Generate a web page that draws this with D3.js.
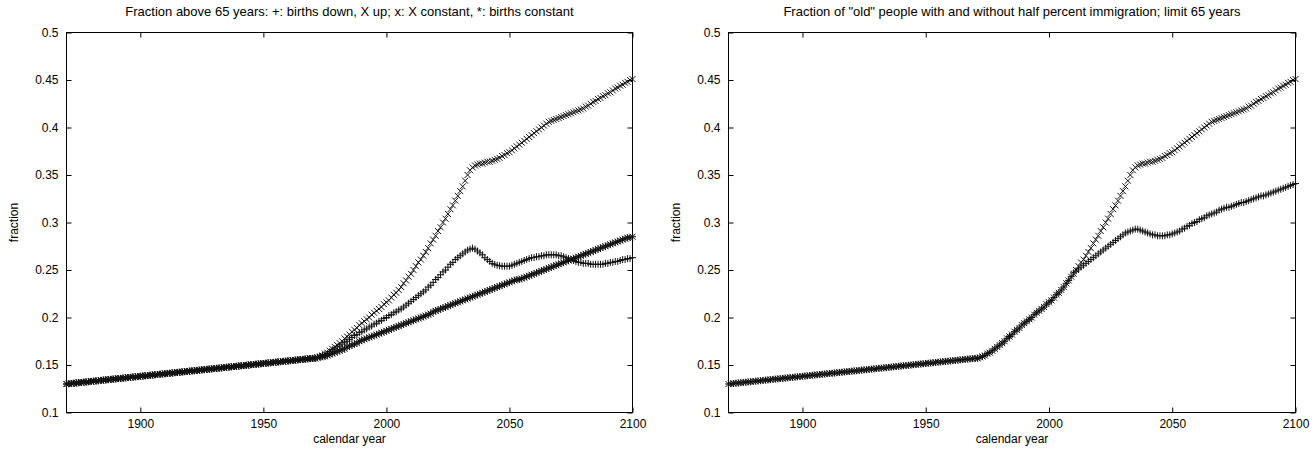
<!DOCTYPE html>
<html>
<head>
<meta charset="utf-8">
<script src="https://cdn.jsdelivr.net/npm/d3@7"></script>
<style>
  body { margin: 0; background: #fff; }
  text { font-family: "Liberation Sans", Arial, Helvetica, sans-serif; font-size: 12px; fill: #000; }
  .title { font-size: 13px; }
</style>
</head>
<body>
<div id="chart"></div>
<script>
// years shown on the x axis, one point per calendar year
var years = d3.range(1870, 2101);
var xTicks = [1900, 1950, 2000, 2050, 2100];
var yTicks = [0.1, 0.15, 0.2, 0.25, 0.3, 0.35, 0.4, 0.45, 0.5];
var yTickLabels = ["0.1", "0.15", "0.2", "0.25", "0.3", "0.35", "0.4", "0.45", "0.5"];

// 1870-1969, all scenarios coincide
var pastShare = [
  .1300, .1303, .1305, .1308, .1311, .1314, .1316, .1319, .1322, .1324,
  .1327, .1330, .1332, .1335, .1338, .1341, .1343, .1346, .1349, .1351,
  .1354, .1357, .1359, .1362, .1365, .1368, .1370, .1373, .1376, .1378,
  .1381, .1384, .1386, .1389, .1392, .1395, .1397, .1400, .1403, .1405,
  .1408, .1411, .1413, .1416, .1419, .1422, .1424, .1427, .1430, .1432,
  .1435, .1438, .1440, .1443, .1446, .1449, .1451, .1454, .1457, .1459,
  .1462, .1465, .1467, .1470, .1473, .1476, .1478, .1481, .1484, .1486,
  .1489, .1492, .1494, .1497, .1500, .1503, .1505, .1508, .1511, .1513,
  .1516, .1519, .1521, .1524, .1527, .1530, .1532, .1535, .1538, .1540,
  .1543, .1546, .1548, .1551, .1554, .1557, .1559, .1562, .1565, .1567
];

// 1970-2100: births down, X up (no immigration)
var birthsDown = [
  .157, .157, .158, .159, .160, .162, .163, .165, .167, .169,
  .171, .173, .175, .178, .180, .182, .185, .187, .189, .192,
  .194, .196, .198, .200, .203, .205, .207, .209, .211, .214,
  .216, .218, .221, .224, .226, .229, .232, .236, .239, .243,
  .246, .250, .254, .258, .261, .265, .269, .273, .278, .282,
  .286, .291, .295, .300, .304, .309, .314, .318, .323, .328,
  .333, .338, .344, .350, .355, .358, .360, .361, .362, .362,
  .363, .364, .364, .365, .366, .367, .368, .370, .371, .373,
  .374, .376, .378, .380, .382, .384, .386, .388, .390, .392,
  .394, .396, .398, .400, .402, .404, .406, .407, .408, .409,
  .410, .411, .412, .413, .414, .415, .416, .417, .418, .419,
  .420, .422, .423, .425, .427, .428, .430, .431, .433, .434,
  .436, .437, .439, .441, .442, .444, .445, .447, .448, .450,
  .451
];

// 1970-2100: X constant
var xConstant = [
  .157, .157, .158, .159, .160, .161, .162, .164, .166, .167,
  .169, .170, .172, .174, .175, .177, .179, .181, .182, .184,
  .185, .187, .188, .190, .191, .193, .194, .196, .197, .199,
  .200, .202, .203, .205, .206, .208, .209, .211, .213, .215,
  .217, .219, .221, .223, .225, .227, .229, .232, .234, .237,
  .240, .242, .245, .248, .250, .253, .256, .258, .261, .263,
  .265, .267, .269, .271, .272, .273, .272, .270, .268, .266,
  .263, .261, .259, .257, .256, .255, .2545, .254, .254, .254,
  .254, .255, .256, .257, .258, .259, .260, .261, .262, .263,
  .263, .264, .264, .265, .265, .266, .266, .266, .266, .266,
  .265, .265, .264, .263, .262, .261, .260, .259, .258, .258,
  .257, .257, .257, .256, .256, .256, .256, .256, .256, .257,
  .257, .258, .258, .259, .259, .260, .261, .261, .262, .262,
  .263
];

// 1970-2100: births constant
var birthsConstant = [
  .157, .157, .158, .158, .159, .159, .160, .161, .162, .163,
  .164, .165, .166, .167, .169, .170, .171, .172, .173, .175,
  .176, .177, .178, .179, .180, .181, .182, .183, .184, .185,
  .186, .187, .188, .189, .190, .191, .192, .193, .194, .195,
  .196, .197, .198, .199, .200, .201, .202, .203, .204, .206,
  .207, .208, .209, .210, .211, .212, .213, .214, .215, .216,
  .217, .218, .219, .220, .221, .222, .223, .224, .225, .226,
  .227, .228, .229, .230, .231, .232, .233, .234, .235, .236,
  .237, .238, .239, .240, .240, .241, .242, .243, .244, .245,
  .246, .247, .248, .249, .250, .251, .252, .253, .254, .255,
  .256, .257, .258, .259, .260, .261, .262, .263, .264, .265,
  .266, .267, .268, .269, .270, .271, .272, .273, .274, .275,
  .276, .277, .278, .279, .280, .281, .282, .283, .284, .284,
  .285
];

// 1970-2100: half percent immigration
var immigration = [
  .157, .157, .158, .159, .160, .162, .163, .165, .167, .169,
  .171, .173, .175, .178, .180, .182, .185, .187, .189, .192,
  .194, .196, .198, .200, .203, .205, .207, .209, .211, .214,
  .216, .218, .221, .224, .226, .229, .232, .236, .239, .243,
  .247, .249, .251, .253, .255, .257, .259, .261, .263, .265,
  .267, .269, .271, .273, .275, .277, .279, .281, .283, .285,
  .287, .289, .290, .291, .292, .293, .293, .292, .291, .290,
  .289, .288, .287, .287, .286, .286, .286, .286, .287, .287,
  .288, .289, .290, .291, .293, .294, .296, .297, .299, .300,
  .301, .303, .304, .305, .307, .308, .309, .310, .311, .313,
  .314, .315, .316, .316, .317, .318, .319, .320, .321, .321,
  .322, .323, .324, .325, .326, .327, .328, .328, .329, .330,
  .331, .332, .333, .334, .335, .336, .337, .338, .339, .340,
  .341
];

var svgWidth = 1315;
var svgHeight = 453;
var plotTop = 32.5;
var plotBottom = 412.5;

// point glyphs like gnuplot's
var glyphs = {
  plus: "M-3.5,0H3.5M0,-3.5V3.5",
  cross: "M-3,-3L3,3M-3,3L3,-3",
  star: "M-3.5,0H3.5M0,-3.5V3.5M-3,-3L3,3M-3,3L3,-3"
};

var panels = [
  {
    left: 66.5, right: 632.5,
    title: "Fraction above 65 years: +: births down, X up; x: X constant, *: births constant",
    series: [
      {values: pastShare.concat(birthsConstant), glyph: "star"},
      {values: pastShare.concat(xConstant), glyph: "plus"},
      {values: pastShare.concat(birthsDown), glyph: "cross"}
    ]
  },
  {
    left: 728.5, right: 1295.5,
    title: "Fraction of \"old\" people with and without half percent immigration; limit 65 years",
    series: [
      {values: pastShare.concat(immigration), glyph: "plus"},
      {values: pastShare.concat(birthsDown), glyph: "cross"}
    ]
  }
];

var svg = d3.select("#chart").append("svg").attr("width", svgWidth).attr("height", svgHeight);

panels.forEach(function(p) {
  var x = d3.scaleLinear().domain([1870, 2100]).range([p.left, p.right]);
  var y = d3.scaleLinear().domain([0.1, 0.5]).range([plotBottom, plotTop]);
  var g = svg.append("g");

  // axes with inward ticks on all four sides
  g.append("g").attr("transform", `translate(0, ${plotBottom})`)
    .call(d3.axisBottom(x).tickValues(xTicks).tickSize(-5).tickPadding(7).tickFormat(d3.format("d")));
  g.append("g").attr("transform", `translate(0, ${plotTop})`)
    .call(d3.axisTop(x).tickValues(xTicks).tickSize(-5).tickFormat(""));
  g.append("g").attr("transform", `translate(${p.left}, 0)`)
    .call(d3.axisLeft(y).tickValues(yTicks).tickSize(-5).tickPadding(8).tickFormat((d, i) => yTickLabels[i]));
  g.append("g").attr("transform", `translate(${p.right}, 0)`)
    .call(d3.axisRight(y).tickValues(yTicks).tickSize(-5).tickFormat(""));
  g.selectAll(".domain").remove();
  g.selectAll(".tick line").attr("stroke", "#000");
  g.selectAll(".tick text").attr("font-size", null).attr("font-family", null);

  g.append("rect").attr("x", p.left).attr("y", plotTop)
    .attr("width", p.right - p.left).attr("height", plotBottom - plotTop)
    .attr("fill", "none").attr("stroke", "#000").attr("stroke-width", 1);

  // points
  p.series.forEach(function(s) {
    g.append("g").selectAll("path").data(s.values).enter().append("path")
      .attr("transform", (d, i) => `translate(${x(years[i])}, ${y(d)})`)
      .attr("d", glyphs[s.glyph])
      .attr("fill", "none").attr("stroke", "#111").attr("stroke-width", 1);
  });

  // titles and axis labels
  var mid = (p.left + p.right) / 2;
  g.append("text").attr("class", "title").attr("x", mid).attr("y", 16).attr("text-anchor", "middle").text(p.title);
  g.append("text").attr("x", mid).attr("y", 443).attr("text-anchor", "middle").text("calendar year");
  g.append("text").attr("transform", `translate(${p.left - 49}, ${(plotTop + plotBottom) / 2}) rotate(-90)`)
    .attr("text-anchor", "middle").text("fraction");
});
</script>
</body>
</html>
